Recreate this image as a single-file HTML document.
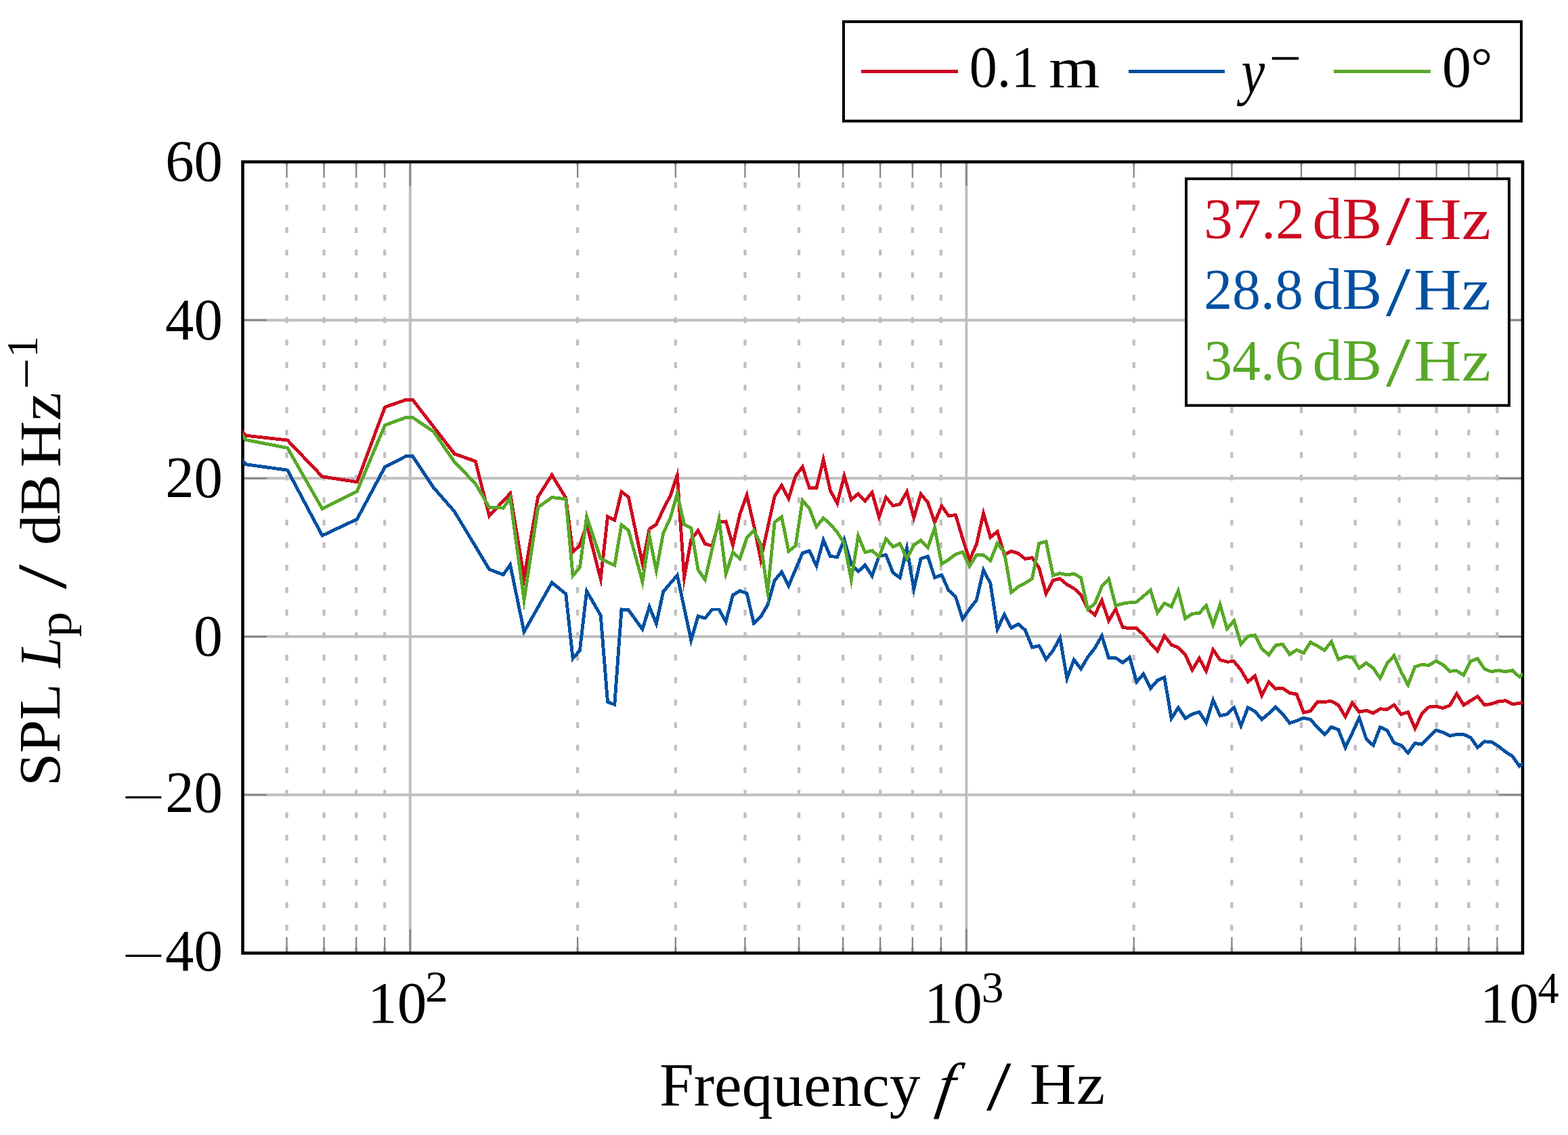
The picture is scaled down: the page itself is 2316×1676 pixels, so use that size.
<!DOCTYPE html><html><head><meta charset="utf-8"><title>SPL plot</title><style>html,body{margin:0;padding:0;background:#fff;overflow:hidden;}svg{display:block}</style></head><body>
<svg width="2316" height="1676" viewBox="0 0 2316 1676">
<rect width="2316" height="1676" fill="#fff"/>
<path d="M423.55 1407.40V239.00M478.56 1407.40V239.00M526.20 1407.40V239.00M568.23 1407.40V239.00M853.15 1407.40V239.00M997.82 1407.40V239.00M1100.47 1407.40V239.00M1180.09 1407.40V239.00M1245.14 1407.40V239.00M1300.15 1407.40V239.00M1347.79 1407.40V239.00M1389.82 1407.40V239.00M1674.73 1407.40V239.00M1819.41 1407.40V239.00M1922.06 1407.40V239.00M2001.68 1407.40V239.00M2066.73 1407.40V239.00M2121.73 1407.40V239.00M2169.38 1407.40V239.00M2211.41 1407.40V239.00" stroke="#bfbfbf" stroke-width="4.2" stroke-dasharray="8.6 24.63" fill="none"/>
<path d="M605.82 1407.40V239.00M1427.41 1407.40V239.00M358.50 1173.72H2249.00M358.50 940.04H2249.00M358.50 706.36H2249.00M358.50 472.68H2249.00" stroke="#bfbfbf" stroke-width="4" fill="none"/>
<path d="M605.82 1407.40v-35.60M605.82 239.00v35.60M1427.41 1407.40v-35.60M1427.41 239.00v35.60M423.55 1407.40v-23.60M423.55 239.00v23.60M478.56 1407.40v-23.60M478.56 239.00v23.60M526.20 1407.40v-23.60M526.20 239.00v23.60M568.23 1407.40v-23.60M568.23 239.00v23.60M853.15 1407.40v-23.60M853.15 239.00v23.60M997.82 1407.40v-23.60M997.82 239.00v23.60M1100.47 1407.40v-23.60M1100.47 239.00v23.60M1180.09 1407.40v-23.60M1180.09 239.00v23.60M1245.14 1407.40v-23.60M1245.14 239.00v23.60M1300.15 1407.40v-23.60M1300.15 239.00v23.60M1347.79 1407.40v-23.60M1347.79 239.00v23.60M1389.82 1407.40v-23.60M1389.82 239.00v23.60M1674.73 1407.40v-23.60M1674.73 239.00v23.60M1819.41 1407.40v-23.60M1819.41 239.00v23.60M1922.06 1407.40v-23.60M1922.06 239.00v23.60M2001.68 1407.40v-23.60M2001.68 239.00v23.60M2066.73 1407.40v-23.60M2066.73 239.00v23.60M2121.73 1407.40v-23.60M2121.73 239.00v23.60M2169.38 1407.40v-23.60M2169.38 239.00v23.60M2211.41 1407.40v-23.60M2211.41 239.00v23.60M358.50 1173.72h35.60M2249.00 1173.72h-35.60M358.50 940.04h35.60M2249.00 940.04h-35.60M358.50 706.36h35.60M2249.00 706.36h-35.60M358.50 472.68h35.60M2249.00 472.68h-35.60" stroke="#808080" stroke-width="2.2" fill="none"/>
<rect x="358.50" y="239.00" width="1890.50" height="1168.40" fill="none" stroke="#000" stroke-width="4.6"/>
<clipPath id="c"><rect x="358.50" y="239.00" width="1890.50" height="1168.40"/></clipPath>
<g clip-path="url(#c)" fill="none" stroke-width="4.9" stroke-linejoin="miter" stroke-miterlimit="10" shape-rendering="crispEdges">
<path d="M352.6 631.0 362.9 643.2 424.6 650.0 476.0 703.8 527.4 711.7 568.5 601.2 599.4 590.4 609.6 590.4 671.3 670.2 702.2 681.1 722.7 761.8 753.6 728.7 774.1 853.0 794.7 733.6 815.2 701.4 835.8 735.3 846.1 815.2 856.4 805.3 866.6 774.6 887.2 855.0 897.5 763.1 907.8 768.0 918.0 726.3 928.3 734.0 948.9 832.0 959.2 781.1 969.4 774.4 979.7 751.9 990.0 732.4 1000.3 702.0 1010.6 853.0 1020.8 796.9 1031.1 783.4 1041.4 802.9 1051.7 806.2 1062.0 771.3 1072.2 770.0 1082.5 805.0 1092.8 759.3 1103.1 731.1 1113.4 775.4 1123.6 826.3 1144.2 732.9 1154.5 716.9 1164.8 736.3 1175.0 702.8 1185.3 689.4 1195.6 720.9 1205.9 720.9 1216.2 678.8 1226.4 724.4 1236.7 743.2 1247.0 702.9 1257.3 737.8 1267.6 729.1 1277.8 739.8 1288.1 727.1 1298.4 763.3 1308.7 734.5 1319.0 746.8 1329.2 744.4 1339.5 726.3 1349.8 764.5 1360.1 729.6 1370.4 741.7 1380.6 771.2 1390.9 747.1 1401.2 761.8 1411.5 760.5 1421.8 795.0 1432.0 827.0 1442.3 804.0 1452.6 758.0 1462.9 793.3 1473.2 785.1 1483.4 818.8 1493.7 813.9 1504.0 817.1 1514.3 825.3 1524.6 823.6 1534.8 838.6 1545.1 876.7 1555.4 856.9 1565.7 854.5 1576.0 863.2 1586.2 868.8 1596.5 878.3 1606.8 898.9 1617.1 908.2 1627.4 886.6 1637.6 916.7 1647.9 899.3 1658.2 926.2 1668.5 927.8 1678.8 927.8 1689.0 937.3 1699.3 950.0 1709.6 961.1 1719.9 939.0 1730.2 952.2 1740.4 956.2 1750.7 966.5 1761.0 989.5 1771.3 972.0 1781.6 991.1 1791.8 959.4 1802.1 974.4 1812.4 977.2 1822.7 976.7 1833.0 989.4 1843.2 1006.8 1853.5 998.1 1863.8 1027.4 1874.1 1006.8 1884.4 1017.1 1894.6 1016.3 1904.9 1023.4 1915.2 1025.1 1925.5 1052.2 1935.8 1049.8 1946.0 1036.3 1956.3 1036.3 1966.6 1035.5 1976.9 1041.1 1987.2 1058.5 1997.4 1037.9 2007.7 1051.4 2018.0 1049.1 2028.3 1053.1 2038.6 1046.8 2048.8 1047.6 2059.1 1040.8 2069.4 1054.7 2079.7 1051.5 2090.0 1075.6 2100.2 1053.9 2110.5 1044.0 2120.8 1043.0 2131.1 1045.6 2141.4 1041.7 2151.6 1024.5 2161.9 1041.1 2172.2 1034.7 2182.5 1028.3 2192.8 1041.1 2203.0 1039.2 2213.3 1036.0 2223.6 1034.7 2233.9 1039.8 2244.2 1038.5 2254.4 1036.0" stroke="#cc0a20"/>
<path d="M352.6 672.5 362.9 685.7 424.6 694.2 476.0 790.9 527.4 766.6 568.5 689.6 599.4 673.8 609.6 673.8 640.5 720.1 671.3 755.4 722.7 840.8 743.3 848.6 753.6 834.0 774.1 933.0 815.2 860.3 835.8 877.0 846.1 972.3 856.4 960.6 866.6 872.9 887.2 908.7 897.5 1036.6 907.8 1040.3 918.0 900.0 928.3 900.7 948.9 929.2 959.2 896.0 969.4 921.0 979.7 873.6 1000.3 849.4 1020.8 945.5 1031.1 909.8 1041.4 912.9 1051.7 900.0 1062.0 900.0 1072.2 918.1 1082.5 878.7 1092.8 872.5 1103.1 876.1 1113.4 920.2 1123.6 910.8 1133.9 893.0 1144.2 856.9 1154.5 844.9 1164.8 865.0 1185.3 816.7 1195.6 813.4 1205.9 835.5 1216.2 797.4 1226.4 821.5 1236.7 822.5 1247.0 796.8 1257.3 833.0 1267.6 843.8 1277.8 834.4 1288.1 850.5 1298.4 821.0 1308.7 819.6 1319.0 845.7 1329.2 853.0 1339.5 809.5 1349.8 869.8 1360.1 824.9 1370.4 821.5 1380.6 853.0 1390.9 849.0 1401.2 871.8 1411.5 881.2 1421.8 914.2 1432.0 899.4 1442.3 886.2 1452.6 841.8 1462.9 861.5 1473.2 929.0 1483.4 907.6 1493.7 927.3 1504.0 921.5 1514.3 930.5 1524.6 955.9 1534.8 953.6 1545.1 973.4 1555.4 960.7 1565.7 941.7 1576.0 1001.9 1586.2 974.2 1596.5 987.6 1606.8 970.2 1617.1 957.0 1627.4 938.9 1637.6 971.4 1647.9 971.4 1658.2 978.5 1668.5 970.6 1678.8 1007.0 1689.0 995.1 1699.3 1016.5 1709.6 1004.7 1719.9 1000.2 1730.2 1060.8 1740.4 1045.0 1750.7 1060.8 1761.0 1054.5 1771.3 1051.3 1781.6 1067.2 1791.8 1033.9 1802.1 1056.9 1812.4 1054.8 1822.7 1044.8 1833.0 1071.8 1843.2 1044.8 1853.5 1050.4 1863.8 1062.3 1874.1 1053.6 1884.4 1044.0 1894.6 1054.4 1904.9 1067.8 1915.2 1064.3 1925.5 1060.1 1935.8 1062.5 1946.0 1074.4 1956.3 1084.7 1966.6 1073.6 1976.9 1077.5 1987.2 1103.7 1997.4 1082.3 2007.7 1060.1 2018.0 1091.0 2028.3 1100.7 2038.6 1073.8 2048.8 1078.5 2059.1 1097.0 2069.4 1100.4 2079.7 1111.6 2090.0 1097.5 2100.2 1099.2 2110.5 1088.3 2120.8 1078.2 2131.1 1081.4 2141.4 1086.5 2151.6 1084.6 2161.9 1084.6 2172.2 1089.1 2182.5 1103.8 2192.8 1094.9 2203.0 1095.5 2213.3 1101.9 2223.6 1110.2 2233.9 1116.6 2244.2 1131.3 2254.4 1124.0" stroke="#0050a0"/>
<path d="M352.6 635.0 362.9 649.5 424.6 661.4 476.0 751.3 527.4 725.4 568.5 627.9 599.4 616.5 609.6 616.5 640.5 637.5 671.3 682.3 702.2 714.0 722.7 749.2 743.3 750.1 753.6 735.5 774.1 886.0 794.7 749.2 815.2 734.5 835.8 736.8 846.1 850.2 856.4 838.0 866.6 763.0 887.2 825.0 907.8 834.8 918.0 775.0 928.3 783.0 948.9 859.0 959.2 792.0 969.4 842.5 979.7 787.2 990.0 765.3 1000.3 729.0 1010.6 774.5 1020.8 779.9 1031.1 841.5 1041.4 856.0 1062.0 766.7 1072.2 847.3 1082.5 815.6 1092.8 825.0 1103.1 794.1 1113.4 783.4 1123.6 803.5 1133.9 874.0 1144.2 771.1 1154.5 763.1 1164.8 814.0 1175.0 806.0 1185.3 739.0 1195.6 751.0 1205.9 777.8 1216.2 765.0 1226.4 774.0 1236.7 786.1 1247.0 802.2 1257.3 856.0 1267.6 791.5 1277.8 815.6 1288.1 812.9 1298.4 822.3 1308.7 795.5 1319.0 807.5 1329.2 802.7 1339.5 824.9 1349.8 804.8 1360.1 798.0 1370.4 808.8 1380.6 779.3 1390.9 832.9 1401.2 826.2 1411.5 818.5 1421.8 815.0 1432.0 836.0 1442.3 819.6 1452.6 819.6 1462.9 827.8 1473.2 802.3 1483.4 815.5 1493.7 874.7 1504.0 866.5 1514.3 861.0 1524.6 854.5 1534.8 802.2 1545.1 799.8 1555.4 849.7 1565.7 846.6 1576.0 849.0 1586.2 847.4 1596.5 852.9 1606.8 899.7 1617.1 891.5 1627.4 866.0 1637.6 854.9 1647.9 894.5 1658.2 891.3 1668.5 889.7 1678.8 889.0 1689.0 880.2 1699.3 871.5 1709.6 904.8 1719.9 890.8 1730.2 896.0 1740.4 872.2 1750.7 913.4 1761.0 906.3 1771.3 905.5 1781.6 894.4 1791.8 922.9 1802.1 892.8 1812.4 928.4 1822.7 916.5 1833.0 951.3 1843.2 939.4 1853.5 937.9 1863.8 957.7 1874.1 967.2 1884.4 952.9 1894.6 951.3 1904.9 966.4 1915.2 959.7 1925.5 964.2 1935.8 948.3 1946.0 953.9 1956.3 960.2 1966.6 947.6 1976.9 973.7 1987.2 969.7 1997.4 970.5 2007.7 986.4 2018.0 979.0 2028.3 986.6 2038.6 1001.6 2048.8 979.4 2059.1 968.3 2069.4 992.0 2079.7 1011.4 2090.0 984.6 2100.2 981.4 2110.5 982.4 2120.8 976.0 2131.1 981.6 2141.4 991.2 2151.6 990.6 2161.9 997.0 2172.2 976.5 2182.5 972.6 2192.8 988.0 2203.0 991.8 2213.3 989.9 2223.6 991.8 2233.9 989.9 2244.2 999.5 2254.4 992.0" stroke="#58a828"/>
</g>
<rect x="1246" y="32" width="1001" height="146.75" fill="#fff" stroke="#000" stroke-width="4.1"/>
<g stroke-width="5">
<path d="M1272 105.5H1415" stroke="#cc0a20"/>
<path d="M1667 105.5H1809" stroke="#0050a0"/>
<path d="M1970 105.5H2113" stroke="#58a828"/>
</g>
<rect x="1752" y="264" width="477" height="334.7" fill="#fff" stroke="#000" stroke-width="4"/>
<g font-family='"Liberation Serif", serif' font-size="88">
<text transform="translate(244.15 267.02) scale(0.9630 0.9831)" fill="#000">60</text>
<text transform="translate(244.07 501.01) scale(0.9639 0.9881)" fill="#000">40</text>
<text transform="translate(244.15 734.01) scale(0.9630 0.9881)" fill="#000">20</text>
<text transform="translate(286.08 968.02) scale(0.9737 0.9831)" fill="#000">0</text>
<text transform="translate(179.83 1199.25) scale(1.2927 0.7500)" fill="#000">−</text>
<text transform="translate(244.15 1199.02) scale(0.9630 0.9831)" fill="#000">20</text>
<text transform="translate(179.83 1433.25) scale(1.2927 0.7500)" fill="#000">−</text>
<text transform="translate(244.07 1433.02) scale(0.9639 0.9831)" fill="#000">40</text>
<text transform="translate(543.07 1510.02) scale(0.9909 0.9831)" fill="#000">10</text>
<text transform="translate(627.91 1479.25) scale(0.7714 0.7508)" fill="#000">2</text>
<text transform="translate(1365.21 1510.02) scale(0.9740 0.9831)" fill="#000">10</text>
<text transform="translate(1449.73 1480.25) scale(0.7432 0.7458)" fill="#000">3</text>
<text transform="translate(2186.10 1510.03) scale(0.9870 0.9695)" fill="#000">10</text>
<text transform="translate(2271.59 1480.70) scale(0.7073 0.7534)" fill="#000">4</text>
<text transform="translate(973.89 1633.26) scale(1.0380 1.0390)" fill="#000">Frequency</text>
<text transform="translate(1381.04 1633.30) scale(1.0217 1.0370) skewX(-9)" fill="#000" font-style="italic">f</text>
<text transform="translate(1457.00 1638.81) scale(1.5000 1.1864)" fill="#000">/</text>
<text transform="translate(1520.74 1630.00) scale(1.0876 0.9828)" fill="#000">Hz</text>
<text transform="translate(88.02 1161.00) rotate(-90) scale(1.0000 0.9831)" fill="#000">SPL</text>
<text transform="translate(89.00 986.09) rotate(-90) scale(0.9130 0.9828)" fill="#000" font-style="italic">L</text>
<text transform="translate(105.05 940.85) rotate(-90) scale(0.8500 0.7869)" fill="#000">p</text>
<text transform="translate(97.32 870.00) rotate(-90) scale(1.5000 1.1780)" fill="#000">/</text>
<text transform="translate(88.03 805.06) rotate(-90) scale(1.0211 0.9677)" fill="#000">dB</text>
<text transform="translate(89.00 690.25) rotate(-90) scale(1.0825 0.9828)" fill="#000">Hz</text>
<text transform="translate(64.62 575.26) rotate(-90) scale(0.9390 0.8750)" fill="#000">−</text>
<text transform="translate(55.25 527.68) rotate(-90) scale(0.7097 0.7458)" fill="#000">1</text>
<text transform="translate(1431.80 127.82) scale(0.9333 0.9814)" fill="#000">0.1</text>
<text transform="translate(1549.20 129.15) scale(1.1015 0.9537)" fill="#000">m</text>
<text transform="translate(1833.41 136.62) scale(0.8870 1.0517)" fill="#000" font-style="italic">y</text>
<text transform="translate(1874.45 111.83) scale(0.9634 0.8750)" fill="#000">−</text>
<text transform="translate(2130.06 127.82) scale(0.9789 0.9797)" fill="#000">0</text>
<text transform="translate(2172.57 124.08) scale(0.9074 0.8963)" fill="#000">°</text>
<text transform="translate(1778.14 351.53) scale(0.9655 0.9712)" fill="#cc0a20">37.2</text>
<text transform="translate(1938.71 351.52) scale(0.9979 0.9774)" fill="#cc0a20">dB</text>
<text transform="translate(2047.00 360.81) scale(1.4917 1.1881)" fill="#cc0a20">/</text>
<text transform="translate(2088.28 352.50) scale(1.1072 0.9879)" fill="#cc0a20">Hz</text>
<text transform="translate(1778.19 456.23) scale(0.9524 0.9712)" fill="#0050a0">28.8</text>
<text transform="translate(1938.71 456.22) scale(0.9979 0.9774)" fill="#0050a0">dB</text>
<text transform="translate(2047.00 465.51) scale(1.4917 1.1881)" fill="#0050a0">/</text>
<text transform="translate(2088.28 457.20) scale(1.1072 0.9879)" fill="#0050a0">Hz</text>
<text transform="translate(1778.19 560.93) scale(0.9524 0.9712)" fill="#58a828">34.6</text>
<text transform="translate(1938.71 560.92) scale(0.9979 0.9774)" fill="#58a828">dB</text>
<text transform="translate(2047.00 570.21) scale(1.4917 1.1881)" fill="#58a828">/</text>
<text transform="translate(2088.28 561.90) scale(1.1072 0.9879)" fill="#58a828">Hz</text>
</g>
</svg></body></html>
